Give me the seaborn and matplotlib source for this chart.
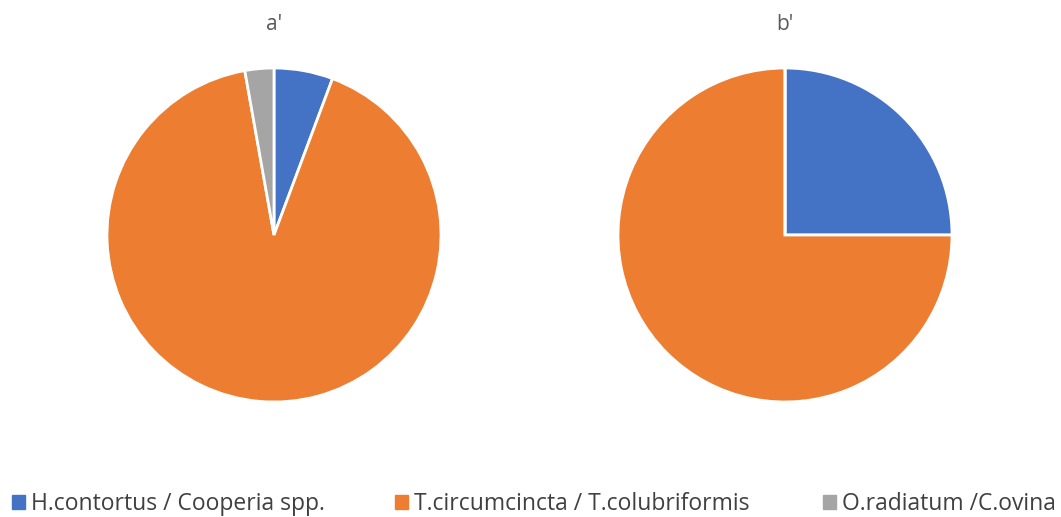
import matplotlib
matplotlib.use("Agg")
import matplotlib.pyplot as plt
import matplotlib.patches as mpatches
import seaborn as sns

categories = ["H.contortus / Cooperia spp.", "T.circumcincta / T.colubriformis", "O.radiatum /C.ovina"]
titles = ["a'", "b'"]
values_a = [5.7, 91.5, 2.8]
values_b = [25.0, 75.0, 0.0]
colors = ["#4472C4", "#ED7D31", "#A5A5A5"]

sns.set_theme(style="white")
plt.rcParams['font.family'] = ['Open Sans', 'DejaVu Sans']
palette = sns.color_palette(colors)

fig = plt.figure(figsize=(10.61, 5.17), dpi=100)
W, H = 1061, 517
r = 167
centers = [(274, 235), (785, 235)]
for (cx, cy), vals, title in zip(centers, [values_a, values_b], titles):
    ax = fig.add_axes([(cx - r) / W, (H - cy - r) / H, 2 * r / W, 2 * r / H])
    ax.pie(vals, colors=palette, startangle=90, counterclock=False,
           wedgeprops=dict(edgecolor="white", linewidth=2), radius=1.0)
    ax.set_xlim(-1, 1)
    ax.set_ylim(-1, 1)
    ax.set_aspect("equal")
    ax.axis("off")
    fig.text(cx / W, 1 - 24 / H, title, ha="center", va="center", fontsize=15, color="#595959")

legend_x = [12, 395, 823]
for x, c, l in zip(legend_x, palette, categories):
    h = mpatches.Patch(color=c, label=l)
    leg = fig.legend(handles=[h], loc="center left", bbox_to_anchor=(x / W, 13 / H),
                     frameon=False, fontsize=16.5, borderpad=0, borderaxespad=0,
                     handlelength=0.57, handleheight=0.57, handletextpad=0.25,
                     labelcolor="#404040")

fig.savefig("out.png", dpi=100)
